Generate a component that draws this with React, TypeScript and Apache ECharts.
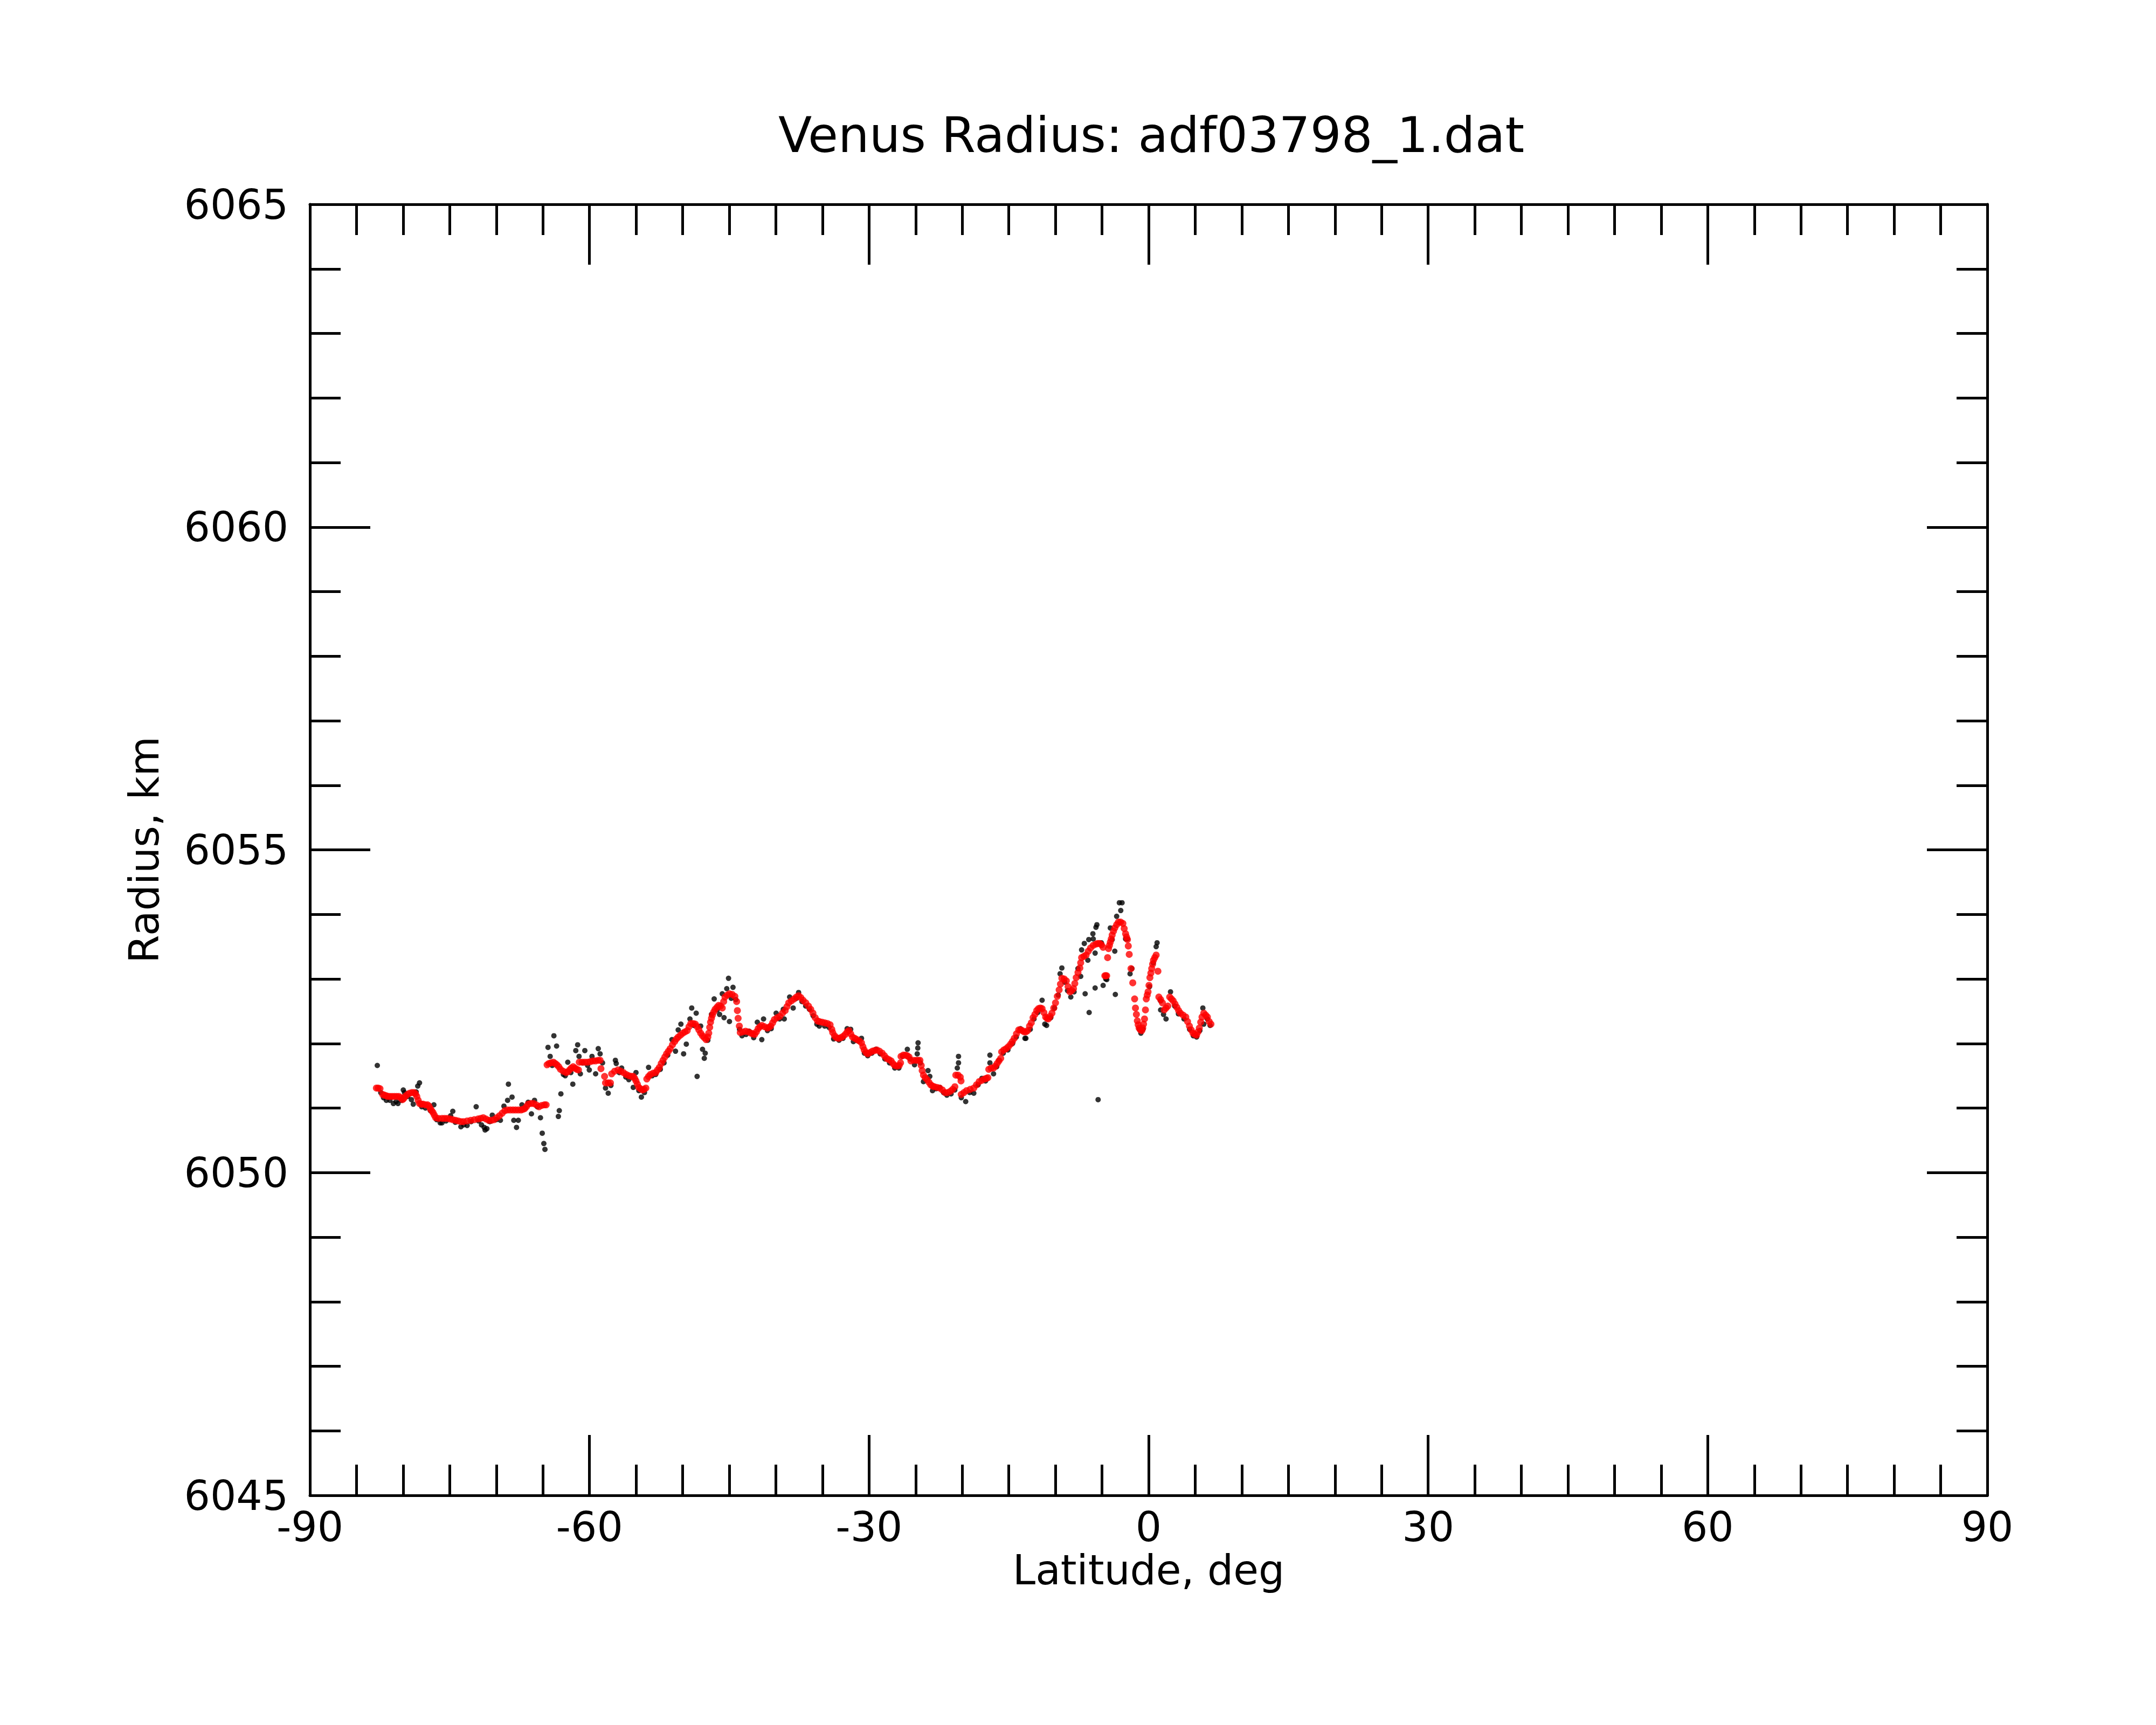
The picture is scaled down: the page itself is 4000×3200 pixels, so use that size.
import React, { useEffect, useRef } from "react";
import * as echarts from "echarts";

const titleText = "Venus Radius: adf03798_1.dat";
const xAxisName = "Latitude, deg";
const yAxisName = "Radius, km";
const xRange = [-90, 90];
const yRange = [6045, 6065];

// raw measured radius (black points): [latitude, radius]
const rawPoints: [number, number][] = [
  [-82.77, 6051.66], [-82.40, 6051.24], [-82.10, 6051.16], [-81.80, 6051.12], [-81.42, 6051.12], [-81.04, 6051.07],
  [-80.75, 6051.10], [-80.55, 6051.07], [-80.20, 6051.12], [-79.98, 6051.28], [-79.85, 6051.24], [-79.50, 6051.18],
  [-79.11, 6051.13], [-78.91, 6051.06], [-78.60, 6051.25], [-78.43, 6051.34], [-78.24, 6051.39], [-78.00, 6051.02],
  [-77.60, 6051.00], [-77.08, 6050.96], [-76.70, 6051.05], [-76.40, 6050.82], [-76.02, 6050.77], [-75.83, 6050.77],
  [-75.40, 6050.80], [-74.90, 6050.88], [-74.67, 6050.95], [-74.40, 6050.78], [-73.80, 6050.71], [-73.50, 6050.74],
  [-73.13, 6050.73], [-72.70, 6050.79], [-72.16, 6051.02], [-71.90, 6050.80], [-71.59, 6050.74], [-71.30, 6050.70],
  [-71.20, 6050.66], [-71.01, 6050.68], [-70.70, 6050.79], [-70.43, 6050.89], [-70.00, 6050.82], [-69.56, 6050.81],
  [-69.18, 6051.03], [-68.79, 6051.12], [-68.70, 6051.37], [-68.31, 6051.17], [-68.12, 6050.81], [-67.83, 6050.70],
  [-67.64, 6050.81], [-67.25, 6051.05], [-66.90, 6051.00], [-66.58, 6051.09], [-66.23, 6050.91], [-65.90, 6051.12],
  [-65.60, 6051.02], [-65.26, 6050.85], [-65.07, 6050.61], [-64.90, 6050.45], [-64.78, 6050.36],
  [-64.45, 6051.94], [-64.22, 6051.80], [-64.00, 6051.66], [-63.82, 6052.12], [-63.53, 6051.96], [-63.34, 6050.87],
  [-63.24, 6050.96], [-63.07, 6051.22], [-62.80, 6051.52], [-62.60, 6051.50], [-62.33, 6051.71], [-62.00, 6051.55],
  [-61.79, 6051.37], [-61.47, 6051.89], [-61.27, 6051.98], [-61.12, 6051.80], [-60.98, 6051.53], [-60.70, 6051.70],
  [-60.50, 6051.89], [-60.20, 6051.66], [-60.02, 6051.59], [-59.73, 6051.80],
  [-59.34, 6051.53], [-59.06, 6051.92], [-58.86, 6051.84], [-58.60, 6051.70], [-58.28, 6051.31], [-57.99, 6051.23],
  [-57.70, 6051.35], [-57.22, 6051.74], [-57.13, 6051.69], [-56.80, 6051.55], [-56.55, 6051.62], [-56.10, 6051.48],
  [-55.78, 6051.44], [-55.30, 6051.32], [-55.01, 6051.55], [-54.70, 6051.27], [-54.43, 6051.17], [-54.10, 6051.24],
  [-53.66, 6051.63], [-53.27, 6051.50], [-52.90, 6051.52], [-52.40, 6051.60], [-52.00, 6051.70], [-51.60, 6051.82],
  [-51.15, 6052.06], [-50.77, 6051.88], [-50.48, 6052.21], [-50.19, 6052.30], [-49.90, 6051.84], [-49.61, 6051.99],
  [-49.22, 6052.38], [-49.03, 6052.55], [-48.80, 6052.28], [-48.55, 6052.47], [-48.45, 6051.49], [-48.07, 6052.27],
  [-47.87, 6051.91], [-47.68, 6051.77], [-47.58, 6051.85], [-47.30, 6052.05], [-46.91, 6052.45], [-46.62, 6052.69],
  [-46.30, 6052.52], [-46.04, 6052.45], [-45.75, 6052.77], [-45.56, 6052.40], [-45.27, 6052.85], [-45.08, 6053.01],
  [-44.98, 6052.34], [-44.79, 6052.70], [-44.60, 6052.87], [-44.30, 6052.68], [-43.90, 6052.22], [-43.63, 6052.12],
  [-43.20, 6052.14], [-42.86, 6052.19], [-42.38, 6052.09], [-41.99, 6052.33], [-41.51, 6052.06], [-41.32, 6052.38],
  [-40.90, 6052.20], [-40.50, 6052.23], [-39.97, 6052.47], [-39.60, 6052.38], [-39.20, 6052.53], [-39.10, 6052.38],
  [-38.52, 6052.72], [-38.14, 6052.55], [-37.80, 6052.70], [-37.56, 6052.79], [-37.20, 6052.65], [-36.80, 6052.58],
  [-36.40, 6052.53], [-36.00, 6052.43],
  [-35.60, 6052.30], [-35.34, 6052.27], [-34.76, 6052.27], [-34.30, 6052.25], [-33.80, 6052.07], [-33.22, 6052.05],
  [-32.80, 6052.08], [-32.35, 6052.23], [-31.97, 6052.22], [-31.68, 6052.03], [-31.20, 6052.04], [-30.81, 6052.08],
  [-30.50, 6051.85], [-30.14, 6051.81], [-29.70, 6051.85], [-29.27, 6051.91], [-28.80, 6051.84], [-28.30, 6051.76],
  [-27.80, 6051.70], [-27.24, 6051.62], [-26.80, 6051.62], [-26.40, 6051.80], [-25.89, 6051.91], [-25.60, 6051.76],
  [-25.12, 6051.67], [-24.83, 6051.84], [-24.77, 6051.93], [-24.74, 6052.01], [-24.50, 6051.70], [-24.16, 6051.41],
  [-23.67, 6051.58], [-23.48, 6051.49], [-23.19, 6051.27], [-22.80, 6051.30], [-22.42, 6051.32], [-22.00, 6051.24],
  [-21.65, 6051.20], [-21.20, 6051.22], [-20.80, 6051.28], [-20.53, 6051.62], [-20.40, 6051.70], [-20.40, 6051.80],
  [-20.10, 6051.16], [-19.63, 6051.10], [-19.20, 6051.24], [-18.76, 6051.23], [-18.30, 6051.36], [-17.89, 6051.46],
  [-17.50, 6051.42], [-17.03, 6051.70], [-17.03, 6051.82], [-16.64, 6051.53], [-16.30, 6051.64], [-16.06, 6051.74],
  [-15.60, 6051.85], [-15.10, 6051.90], [-14.60, 6052.00], [-14.20, 6052.10], [-13.75, 6052.23], [-13.27, 6052.08],
  [-13.17, 6052.08], [-12.70, 6052.22], [-12.30, 6052.38], [-11.90, 6052.48], [-11.43, 6052.67], [-11.14, 6052.30],
  [-10.95, 6052.28], [-10.50, 6052.40], [-10.10, 6052.55], [-9.70, 6052.75], [-9.50, 6053.08], [-9.31, 6053.17],
  [-9.00, 6052.95], [-8.70, 6052.82], [-8.35, 6052.72], [-8.00, 6052.80], [-7.58, 6053.16], [-7.29, 6053.04],
  [-7.19, 6053.45], [-6.90, 6053.55], [-6.81, 6052.77], [-6.52, 6053.29], [-6.42, 6053.61], [-6.38, 6052.48],
  [-5.98, 6053.70], [-5.94, 6053.62], [-5.74, 6053.40], [-5.74, 6052.86], [-5.65, 6053.80], [-5.55, 6053.84],
  [-5.42, 6051.13], [-5.07, 6053.56], [-4.88, 6052.90], [-4.60, 6053.00], [-4.49, 6052.99], [-4.11, 6053.79],
  [-3.91, 6053.61], [-3.63, 6053.43], [-3.57, 6052.76], [-3.43, 6053.97], [-3.14, 6054.18], [-2.99, 6054.06],
  [-2.85, 6054.18], [-2.47, 6053.62], [-2.27, 6053.62], [-1.99, 6053.08], [-1.79, 6053.16], [-1.00, 6052.22],
  [-0.83, 6052.16], [-0.60, 6052.22], [0.10, 6052.88], [0.50, 6053.25], [0.81, 6053.50], [0.91, 6053.56],
  [1.29, 6052.66], [1.29, 6052.52], [1.60, 6052.45], [1.87, 6052.38], [2.35, 6052.80], [2.80, 6052.58],
  [3.20, 6052.46], [3.80, 6052.38], [4.40, 6052.22], [4.80, 6052.12], [5.15, 6052.10], [5.50, 6052.20],
  [5.82, 6052.55], [5.92, 6052.30], [6.30, 6052.38], [6.60, 6052.28],
];

// smoothed radius (red points): [latitude, radius]
const fitPoints: [number, number][] = [
  [-82.87, 6051.31], [-82.68, 6051.31], [-82.48, 6051.30], [-82.19, 6051.21], [-82.00, 6051.20], [-81.81, 6051.19],
  [-81.62, 6051.18], [-81.42, 6051.18], [-81.18, 6051.18], [-80.94, 6051.18], [-80.70, 6051.18], [-80.46, 6051.18],
  [-80.26, 6051.16], [-80.07, 6051.13], [-79.92, 6051.15], [-79.78, 6051.18], [-79.54, 6051.21], [-79.30, 6051.23],
  [-79.06, 6051.24], [-78.82, 6051.24], [-78.67, 6051.22], [-78.53, 6051.18], [-78.38, 6051.12], [-78.24, 6051.07],
  [-78.05, 6051.06], [-77.85, 6051.06], [-77.61, 6051.05], [-77.37, 6051.05], [-77.22, 6051.03], [-77.08, 6050.99],
  [-76.94, 6050.96], [-76.79, 6050.93], [-76.65, 6050.89], [-76.50, 6050.85], [-76.20, 6050.84], [-75.83, 6050.84],
  [-75.54, 6050.84], [-75.25, 6050.84], [-74.96, 6050.83], [-74.67, 6050.82], [-74.38, 6050.81], [-74.09, 6050.80],
  [-73.80, 6050.79], [-73.52, 6050.79], [-73.13, 6050.80], [-72.74, 6050.81], [-72.36, 6050.82], [-71.97, 6050.83],
  [-71.68, 6050.84], [-71.40, 6050.85], [-71.11, 6050.83], [-70.82, 6050.81], [-70.53, 6050.81], [-70.24, 6050.82],
  [-69.95, 6050.85], [-69.66, 6050.88], [-69.37, 6050.92], [-69.08, 6050.96], [-68.79, 6050.97], [-68.50, 6050.97],
  [-68.21, 6050.97], [-67.93, 6050.97], [-67.64, 6050.97], [-67.35, 6050.97], [-67.15, 6050.98], [-66.96, 6050.99],
  [-66.77, 6051.02], [-66.58, 6051.06], [-66.29, 6051.07], [-66.00, 6051.07], [-65.71, 6051.05], [-65.42, 6051.02],
  [-65.13, 6051.04], [-64.84, 6051.05], [-64.65, 6051.05],
  [-64.55, 6051.67], [-64.36, 6051.69], [-64.12, 6051.70], [-63.88, 6051.71], [-63.68, 6051.69], [-63.49, 6051.67],
  [-63.30, 6051.64], [-63.11, 6051.60], [-62.82, 6051.57], [-62.53, 6051.55], [-62.33, 6051.56], [-62.14, 6051.59],
  [-61.95, 6051.62], [-61.75, 6051.64], [-61.56, 6051.62], [-61.37, 6051.60], [-61.18, 6051.59], [-61.10, 6051.71],
  [-60.80, 6051.71], [-60.50, 6051.71], [-60.20, 6051.71], [-59.90, 6051.72], [-59.63, 6051.73], [-59.35, 6051.73],
  [-59.06, 6051.74], [-58.86, 6051.74], [-58.77, 6051.61], [-58.38, 6051.49], [-58.28, 6051.39], [-58.00, 6051.39],
  [-57.75, 6051.39], [-57.62, 6051.53], [-57.30, 6051.57], [-56.94, 6051.59], [-56.65, 6051.57], [-56.36, 6051.55],
  [-56.07, 6051.52], [-55.78, 6051.50], [-55.50, 6051.49], [-55.30, 6051.49], [-55.15, 6051.46], [-55.01, 6051.42],
  [-54.86, 6051.37], [-54.72, 6051.32], [-54.53, 6051.30], [-54.33, 6051.28], [-54.14, 6051.29], [-53.95, 6051.31],
  [-53.85, 6051.45], [-53.66, 6051.49], [-53.46, 6051.52], [-53.17, 6051.54], [-52.89, 6051.55], [-52.70, 6051.59],
  [-52.50, 6051.63], [-52.30, 6051.69], [-52.11, 6051.74], [-51.92, 6051.79], [-51.73, 6051.84], [-51.53, 6051.88],
  [-51.34, 6051.92], [-51.10, 6051.98], [-50.86, 6052.03], [-50.67, 6052.07], [-50.48, 6052.10], [-50.23, 6052.13],
  [-49.99, 6052.16], [-49.75, 6052.18], [-49.51, 6052.20], [-49.32, 6052.26], [-49.13, 6052.31], [-48.88, 6052.31],
  [-48.64, 6052.30], [-48.45, 6052.26], [-48.26, 6052.21], [-48.07, 6052.16], [-47.87, 6052.12], [-47.68, 6052.09],
  [-47.49, 6052.06], [-47.30, 6052.10], [-47.20, 6052.16], [-47.10, 6052.25], [-47.01, 6052.33], [-46.91, 6052.39],
  [-46.81, 6052.44], [-46.66, 6052.49], [-46.52, 6052.53], [-46.33, 6052.56], [-46.14, 6052.59], [-45.94, 6052.58],
  [-45.75, 6052.55], [-45.60, 6052.65], [-45.46, 6052.72], [-45.22, 6052.75], [-44.98, 6052.77], [-44.69, 6052.76],
  [-44.40, 6052.73], [-44.21, 6052.65], [-44.13, 6052.51], [-44.05, 6052.39], [-43.92, 6052.27], [-43.82, 6052.17],
  [-43.54, 6052.18], [-43.25, 6052.19], [-42.96, 6052.18], [-42.67, 6052.16], [-42.48, 6052.15], [-42.28, 6052.14],
  [-42.09, 6052.18], [-41.90, 6052.23], [-41.71, 6052.26], [-41.51, 6052.28], [-41.22, 6052.26], [-40.93, 6052.24],
  [-40.74, 6052.25], [-40.55, 6052.27], [-40.35, 6052.32], [-40.16, 6052.37], [-39.87, 6052.40], [-39.58, 6052.42],
  [-39.29, 6052.47], [-39.00, 6052.51], [-38.81, 6052.57], [-38.62, 6052.63], [-38.33, 6052.66], [-38.04, 6052.69],
  [-37.80, 6052.72], [-37.56, 6052.74], [-37.32, 6052.71], [-37.08, 6052.67], [-36.79, 6052.63], [-36.50, 6052.58],
  [-36.26, 6052.53], [-36.02, 6052.47], [-35.78, 6052.40], [-35.54, 6052.35], [-35.34, 6052.34], [-35.05, 6052.33],
  [-34.76, 6052.32], [-34.47, 6052.31], [-34.18, 6052.29], [-34.00, 6052.22], [-33.90, 6052.17], [-33.70, 6052.12],
  [-33.51, 6052.09], [-33.27, 6052.08], [-33.03, 6052.09], [-32.79, 6052.11], [-32.55, 6052.14], [-32.35, 6052.18],
  [-32.16, 6052.20], [-31.97, 6052.15], [-31.77, 6052.10], [-31.53, 6052.08], [-31.29, 6052.06], [-31.05, 6052.04],
  [-30.81, 6052.01], [-30.66, 6051.95], [-30.52, 6051.90], [-30.33, 6051.86], [-30.14, 6051.84], [-29.90, 6051.86],
  [-29.65, 6051.88], [-29.41, 6051.89], [-29.17, 6051.90], [-28.88, 6051.88], [-28.59, 6051.85], [-28.35, 6051.81],
  [-28.11, 6051.77], [-27.87, 6051.75], [-27.63, 6051.73], [-27.44, 6051.69], [-27.24, 6051.66], [-27.00, 6051.65],
  [-26.76, 6051.66], [-26.62, 6051.70], [-26.57, 6051.80], [-26.33, 6051.82], [-26.09, 6051.82], [-25.90, 6051.81],
  [-25.70, 6051.79], [-25.51, 6051.73], [-25.22, 6051.74], [-24.93, 6051.74], [-24.74, 6051.74], [-24.54, 6051.74],
  [-24.40, 6051.66], [-24.30, 6051.58], [-24.16, 6051.51], [-23.97, 6051.47], [-23.77, 6051.44], [-23.58, 6051.40],
  [-23.38, 6051.36], [-23.19, 6051.34], [-23.00, 6051.33], [-22.71, 6051.32], [-22.42, 6051.31], [-22.13, 6051.28],
  [-21.85, 6051.24], [-21.56, 6051.24], [-21.27, 6051.26], [-21.03, 6051.29], [-20.79, 6051.33], [-20.69, 6051.51],
  [-20.45, 6051.51], [-20.21, 6051.48], [-20.13, 6051.42], [-20.11, 6051.21], [-19.82, 6051.24], [-19.53, 6051.27],
  [-19.15, 6051.29], [-18.76, 6051.31], [-18.47, 6051.36], [-18.18, 6051.41], [-17.89, 6051.43], [-17.60, 6051.45],
  [-17.40, 6051.46], [-17.25, 6051.47], [-17.15, 6051.60], [-16.90, 6051.62], [-16.64, 6051.62], [-16.45, 6051.65],
  [-16.25, 6051.69], [-16.06, 6051.73], [-15.87, 6051.77], [-15.77, 6051.87], [-15.53, 6051.90], [-15.29, 6051.92],
  [-15.05, 6051.95], [-14.81, 6051.99], [-14.62, 6052.03], [-14.42, 6052.08], [-14.18, 6052.15], [-13.94, 6052.21],
  [-13.75, 6052.21], [-13.55, 6052.20], [-13.36, 6052.18], [-13.17, 6052.18], [-12.98, 6052.20], [-12.78, 6052.27],
  [-12.59, 6052.32], [-12.40, 6052.40], [-12.20, 6052.45], [-12.01, 6052.51], [-11.82, 6052.54], [-11.62, 6052.55],
  [-11.43, 6052.54], [-11.24, 6052.48], [-11.05, 6052.41], [-10.90, 6052.39], [-10.76, 6052.38], [-10.57, 6052.42],
  [-10.37, 6052.47], [-10.18, 6052.55], [-9.99, 6052.63], [-9.80, 6052.73], [-9.60, 6052.83], [-9.46, 6052.92],
  [-9.31, 6053.01], [-9.07, 6053.00], [-8.83, 6052.97], [-8.64, 6052.88], [-8.44, 6052.80], [-8.25, 6052.82],
  [-8.06, 6052.85], [-7.92, 6052.93], [-7.77, 6053.02], [-7.58, 6053.10], [-7.38, 6053.17], [-7.29, 6053.25],
  [-7.19, 6053.33], [-6.95, 6053.35], [-6.71, 6053.37], [-6.47, 6053.43], [-6.23, 6053.48], [-5.94, 6053.52],
  [-5.65, 6053.54], [-5.45, 6053.55], [-5.26, 6053.55], [-5.07, 6053.53], [-4.88, 6053.49], [-4.70, 6053.05],
  [-4.60, 6053.05], [-4.50, 6053.05], [-4.40, 6053.33], [-4.30, 6053.47], [-4.20, 6053.52], [-4.11, 6053.57],
  [-4.01, 6053.62], [-3.91, 6053.68], [-3.77, 6053.74], [-3.63, 6053.79], [-3.43, 6053.84], [-3.24, 6053.88],
  [-3.00, 6053.88], [-2.76, 6053.86], [-2.62, 6053.78], [-2.47, 6053.70], [-2.37, 6053.65], [-2.27, 6053.61],
  [-2.18, 6053.51], [-2.08, 6053.38], [-1.89, 6053.16], [-1.70, 6052.94], [-1.50, 6052.69], [-1.41, 6052.55],
  [-1.31, 6052.45], [-1.21, 6052.35], [-1.12, 6052.29], [-1.02, 6052.24], [-0.88, 6052.21], [-0.73, 6052.20],
  [-0.63, 6052.24], [-0.54, 6052.30], [-0.44, 6052.38], [-0.34, 6052.52], [-0.25, 6052.69], [-0.15, 6052.75],
  [-0.06, 6052.80], [0.04, 6052.90], [0.14, 6053.02], [0.24, 6053.09], [0.33, 6053.16], [0.43, 6053.23],
  [0.52, 6053.29], [0.66, 6053.33], [0.81, 6053.37], [1.00, 6053.12], [1.10, 6052.72], [1.29, 6052.68],
  [1.48, 6052.63], [1.68, 6052.52], [1.87, 6052.55], [2.06, 6052.58], [2.26, 6052.72], [2.45, 6052.69],
  [2.64, 6052.66], [2.84, 6052.61], [3.03, 6052.56], [3.22, 6052.51], [3.41, 6052.47], [3.70, 6052.44],
  [3.99, 6052.41], [4.18, 6052.34], [4.38, 6052.27], [4.57, 6052.21], [4.76, 6052.16], [4.96, 6052.14],
  [5.15, 6052.13], [5.30, 6052.18], [5.44, 6052.24], [5.59, 6052.33], [5.73, 6052.41], [5.92, 6052.47],
  [6.12, 6052.44], [6.31, 6052.41], [6.50, 6052.34], [6.69, 6052.30],
];

const FONT = "DejaVu Sans";

export default function App() {
  const ref = useRef<HTMLDivElement>(null);

  useEffect(() => {
    if (!ref.current) return;
    const chart = echarts.init(ref.current, null, { renderer: "svg" });
    const line = { color: "#000", width: 5 };
    const baseX = {
      type: "value",
      min: xRange[0],
      max: xRange[1],
      interval: 30,
      axisLine: { show: true, onZero: false, lineStyle: line },
      axisTick: { show: true, inside: true, length: 112, lineStyle: line },
      minorTick: { show: true, splitNumber: 6, length: 57, lineStyle: line },
      splitLine: { show: false },
      minorSplitLine: { show: false },
    };
    const baseY = {
      type: "value",
      min: yRange[0],
      max: yRange[1],
      interval: 5,
      axisLine: { show: true, onZero: false, lineStyle: line },
      axisTick: { show: true, inside: true, length: 112, lineStyle: line },
      minorTick: { show: true, splitNumber: 5, length: 57, lineStyle: line },
      splitLine: { show: false },
      minorSplitLine: { show: false },
    };
    const labelStyle = { color: "#000", fontSize: 76, fontFamily: FONT };
    const plain = (v: number) => String(v);
    chart.setOption({
      animation: false,
      backgroundColor: "#fff",
      title: {
        text: titleText,
        left: 2131,
        top: 200,
        textAlign: "center",
        textStyle: { color: "#000", fontSize: 91, fontWeight: "normal", fontFamily: FONT },
      },
      grid: {
        left: 575,
        top: 379,
        width: 3112,
        height: 2395,
        containLabel: false,
        outerBoundsMode: "none",
      },
      xAxis: [
        {
          ...baseX,
          position: "bottom",
          name: xAxisName,
          nameLocation: "middle",
          nameGap: 94,
          nameTextStyle: labelStyle,
          axisLabel: { show: true, margin: 20, showMinLabel: true, showMaxLabel: true, formatter: plain, ...labelStyle },
        },
        {
          ...baseX,
          position: "top",
          axisLabel: { show: false },
        },
      ],
      yAxis: [
        {
          ...baseY,
          position: "left",
          name: yAxisName,
          nameLocation: "middle",
          nameGap: 270,
          nameTextStyle: labelStyle,
          axisLabel: { show: true, margin: 40, showMinLabel: true, showMaxLabel: true, formatter: plain, ...labelStyle },
        },
        {
          ...baseY,
          position: "right",
          axisLabel: { show: false },
        },
      ],
      series: [
        {
          name: "raw",
          type: "scatter",
          xAxisIndex: 0,
          yAxisIndex: 0,
          data: rawPoints,
          symbol: "circle",
          symbolSize: 10,
          itemStyle: { color: "#000" },
          silent: true,
        },
        {
          name: "smoothed",
          type: "scatter",
          xAxisIndex: 0,
          yAxisIndex: 0,
          data: fitPoints,
          symbol: "circle",
          symbolSize: 13,
          itemStyle: { color: "#ff0000" },
          silent: true,
        },
      ],
    });
    return () => chart.dispose();
  }, []);

  return (
    <div
      ref={ref}
      style={{ position: "absolute", left: 0, top: 0, width: 4000, height: 3200, background: "#fff" }}
    />
  );
}
